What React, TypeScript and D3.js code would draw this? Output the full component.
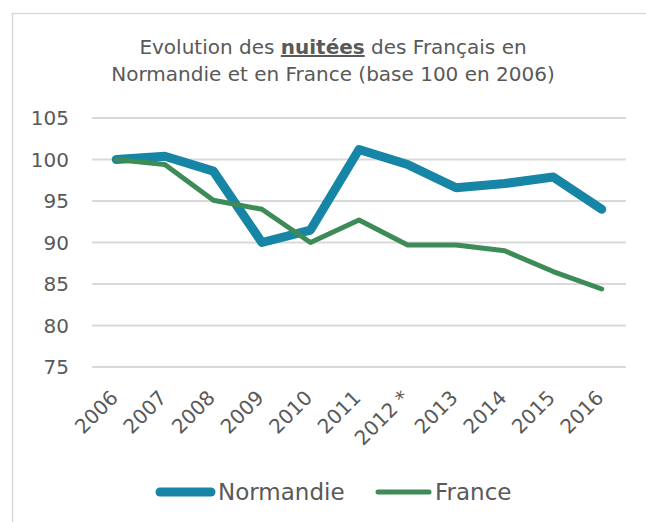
import * as d3 from 'd3';

const width = 646;
const height = 522;

const years = ['2006', '2007', '2008', '2009', '2010', '2011', '2012 *', '2013', '2014', '2015', '2016'];
const normandie = [100, 100.4, 98.6, 90.0, 91.5, 101.2, 99.4, 96.6, 97.1, 97.9, 94.0];
const france = [100, 99.4, 95.1, 94.0, 90.0, 92.7, 89.7, 89.7, 89.0, 86.5, 84.4];
const yTicks = [75, 80, 85, 90, 95, 100, 105];

const seriesList = [
  { name: 'Normandie', values: normandie, color: '#1785a6', width: 9 },
  { name: 'France', values: france, color: '#3d8b56', width: 5 },
];

const font = '"DejaVu Sans", sans-serif';
const textColor = '#595959';

const x = d3.scaleBand<string>().domain(years).range([92, 626]);
const y = d3.scaleLinear().domain([75, 105]).range([367, 118]);

const lineGen = d3
  .line<number>()
  .x((_, i) => (x(years[i]) as number) + x.bandwidth() / 2)
  .y(d => y(d));

const App = () => {
  return (
    <svg width={width} height={height} style={{ position: 'absolute', left: 0, top: 0, background: '#fff' }}>
      <rect x={12.5} y={13.5} width={700} height={600} fill="#fff" stroke="#d9d9d9" strokeWidth={1.5} />

      {/* title */}
      <text x={333} y={54} textAnchor="middle" fontFamily={font} fontSize={20} fill={textColor}>
        Evolution des{' '}
        <tspan fontWeight="bold" textDecoration="underline">nuitées</tspan> des Français en
      </text>
      <text x={333} y={81} textAnchor="middle" fontFamily={font} fontSize={20} fill={textColor}>
        Normandie et en France (base 100 en 2006)
      </text>

      {/* grid + y ticks */}
      {yTicks.map(t => (
        <g key={t}>
          <line x1={92} x2={626} y1={y(t)} y2={y(t)} stroke="#d9d9d9" strokeWidth={2} />
          <text x={69} y={y(t)} textAnchor="end" dominantBaseline="central" fontFamily={font} fontSize={20} fill={textColor}>
            {t}
          </text>
        </g>
      ))}

      {/* x labels */}
      {years.map(yr => {
        const cx = (x(yr) as number) + x.bandwidth() / 2 + 3;
        const cy = 399;
        return (
          <text
            key={yr}
            x={cx}
            y={cy}
            textAnchor="end"
            transform={`rotate(-45,${cx},${cy})`}
            fontFamily={font}
            fontSize={20}
            fill={textColor}
          >
            {yr}
          </text>
        );
      })}

      {/* lines */}
      {seriesList.map(s => (
        <path
          key={s.name}
          d={lineGen(s.values) as string}
          fill="none"
          stroke={s.color}
          strokeWidth={s.width}
          strokeLinejoin="round"
          strokeLinecap="round"
        />
      ))}

      {/* legend */}
      <line x1={160} x2={211} y1={492} y2={492} stroke={seriesList[0].color} strokeWidth={9} strokeLinecap="round" />
      <text x={218} y={492} dominantBaseline="central" fontFamily={font} fontSize={23} fill={textColor}>
        Normandie
      </text>
      <line x1={378} x2={429} y1={492} y2={492} stroke={seriesList[1].color} strokeWidth={5} strokeLinecap="round" />
      <text x={435} y={492} dominantBaseline="central" fontFamily={font} fontSize={23} fill={textColor}>
        France
      </text>
    </svg>
  );
};

export default App;
